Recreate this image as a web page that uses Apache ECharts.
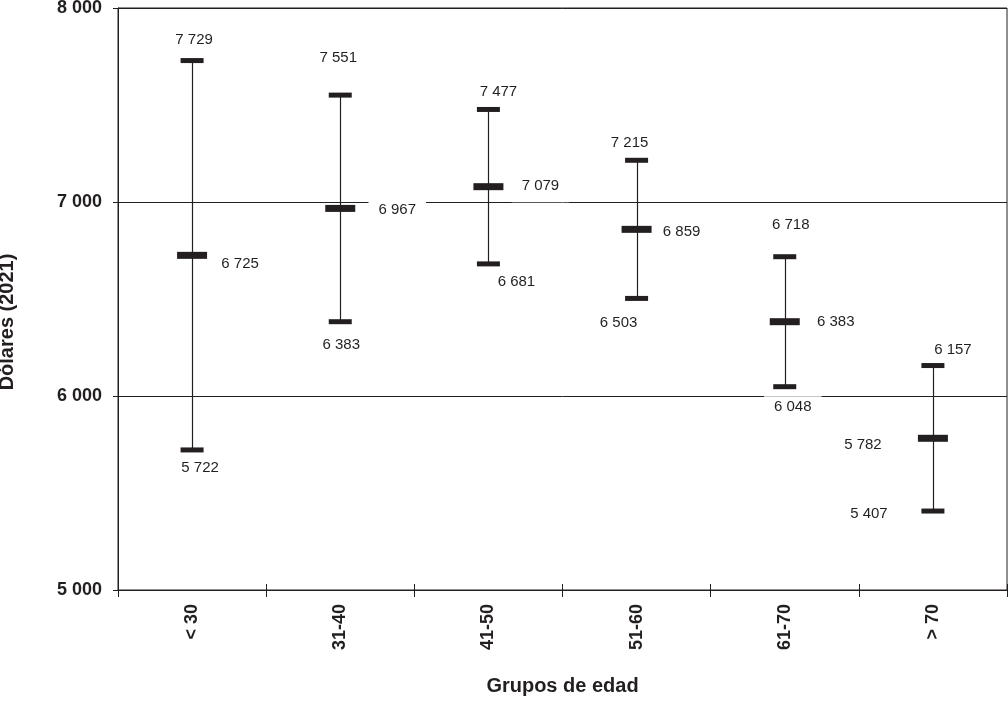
<!DOCTYPE html>
<html>
<head>
<meta charset="utf-8">
<script src="https://cdn.jsdelivr.net/npm/echarts@6/dist/echarts.min.js"></script>
<style>
html,body{margin:0;padding:0;background:#fff;}
#chart{width:1008px;height:703px;}
</style>
</head>
<body>
<div id="chart"></div>
<script>
const categories = ['< 30', '31-40', '41-50', '51-60', '61-70', '> 70'];
const highValues = [7729, 7551, 7477, 7215, 6718, 6157];
const meanValues = [6725, 6967, 7079, 6859, 6383, 5782];
const lowValues  = [5722, 6383, 6681, 6503, 6048, 5407];
const yTicks = [5000, 6000, 7000, 8000];

// label offsets (style only, in pixels)
const highOffsets = [[2,-21],[-2,-37],[10,-18],[-7,-17],[6,-32],[20,-16]];
const meanOffsets = [[48,9],[57,1],[52,-1],[45,3],[51,0],[-70,7]];
const lowOffsets  = [[8,18],[1,23],[28,18],[-18,24],[8,20],[-64,3]];
// label box paddings (style only)
const meanPads = [null, [3,10], [9,10], null, null, null];
const lowPads  = [null, null, null, null, [3,10], null];

const INK = '#231f20';
const FONT = '"Liberation Sans", Arial, sans-serif';
const fmt = v => String(v).replace(/\B(?=(\d{3})+(?!\d))/g, ' ');

function labelled(values, offsets, pads) {
  return values.map((v, i) => {
    const lab = { offset: offsets[i] };
    if (pads && pads[i]) lab.padding = pads[i];
    return { value: [i, v], label: lab };
  });
}
const baseLabel = {
  show: true,
  position: 'inside',
  formatter: p => fmt(p.value[1]),
  color: INK,
  fontFamily: FONT,
  fontSize: 15,
  backgroundColor: '#fff',
  padding: [2, 6]
};

const chart = echarts.init(document.getElementById('chart'), null, {renderer: 'canvas'});
chart.setOption({
  animation: false,
  backgroundColor: '#fff',
  grid: { left: 118, right: 1, top: 8, bottom: 113, containLabel: false, outerBoundsMode: 'none',
    show: true, borderColor: INK, borderWidth: 1, backgroundColor: 'transparent' },
  xAxis: [{
    type: 'category',
    data: categories,
    position: 'bottom',
    boundaryGap: true,
    axisLine: { show: true, lineStyle: { color: INK, width: 1 } },
    axisTick: { show: true, length: 7, lineStyle: { color: INK } },
    axisLabel: { rotate: 90, margin: 14, color: INK, fontFamily: FONT, fontWeight: 'bold', fontSize: 18 },
    name: 'Grupos de edad',
    nameLocation: 'middle',
    nameGap: 86,
    nameTextStyle: { color: INK, fontFamily: FONT, fontWeight: 'bold', fontSize: 20 }
  }, {
    type: 'category',
    data: categories,
    position: 'bottom',
    boundaryGap: true,
    axisLine: { show: false },
    axisTick: { show: true, inside: true, length: 6, lineStyle: { color: INK } },
    axisLabel: { show: false }
  }],
  yAxis: {
    type: 'value',
    min: 5000,
    max: 8000,
    interval: 1000,
    axisLine: { show: true, lineStyle: { color: INK, width: 1 } },
    axisTick: { show: true, length: 5, lineStyle: { color: INK } },
    axisLabel: { margin: 16, color: INK, fontFamily: FONT, fontWeight: 'bold', fontSize: 18,
      formatter: v => yTicks.includes(v) ? fmt(v) : '' },
    splitLine: { show: true, lineStyle: { color: INK, width: 1 } },
    name: 'Dólares (2021)',
    nameLocation: 'middle',
    nameGap: 101,
    nameRotate: 90,
    nameTextStyle: { color: INK, fontFamily: FONT, fontWeight: 'bold', fontSize: 20, padding: [0, 46, 0, 0] }
  },
  series: [{
    type: 'custom',
    silent: true,
    z: 2,
    data: categories.map((c, i) => [i, highValues[i], lowValues[i]]),
    encode: { x: 0, y: [1, 2] },
    renderItem: (params, api) => {
      const top = api.coord([api.value(0), api.value(1)]);
      const bot = api.coord([api.value(0), api.value(2)]);
      return { type: 'line', shape: { x1: Math.round(top[0]) + 0.5, y1: top[1], x2: Math.round(bot[0]) + 0.5, y2: bot[1] },
        style: { stroke: INK, lineWidth: 1.2 } };
    }
  }, {
    type: 'scatter', silent: true, z: 3,
    symbol: 'rect', symbolSize: [23, 5],
    itemStyle: { color: INK, opacity: 1 },
    label: baseLabel,
    data: labelled(highValues, highOffsets)
  }, {
    type: 'scatter', silent: true, z: 3,
    symbol: 'rect', symbolSize: [30, 7],
    itemStyle: { color: INK, opacity: 1 },
    label: baseLabel,
    data: labelled(meanValues, meanOffsets, meanPads)
  }, {
    type: 'scatter', silent: true, z: 3,
    symbol: 'rect', symbolSize: [23, 5],
    itemStyle: { color: INK, opacity: 1 },
    label: baseLabel,
    data: labelled(lowValues, lowOffsets, lowPads)
  }]
});
</script>
</body>
</html>
